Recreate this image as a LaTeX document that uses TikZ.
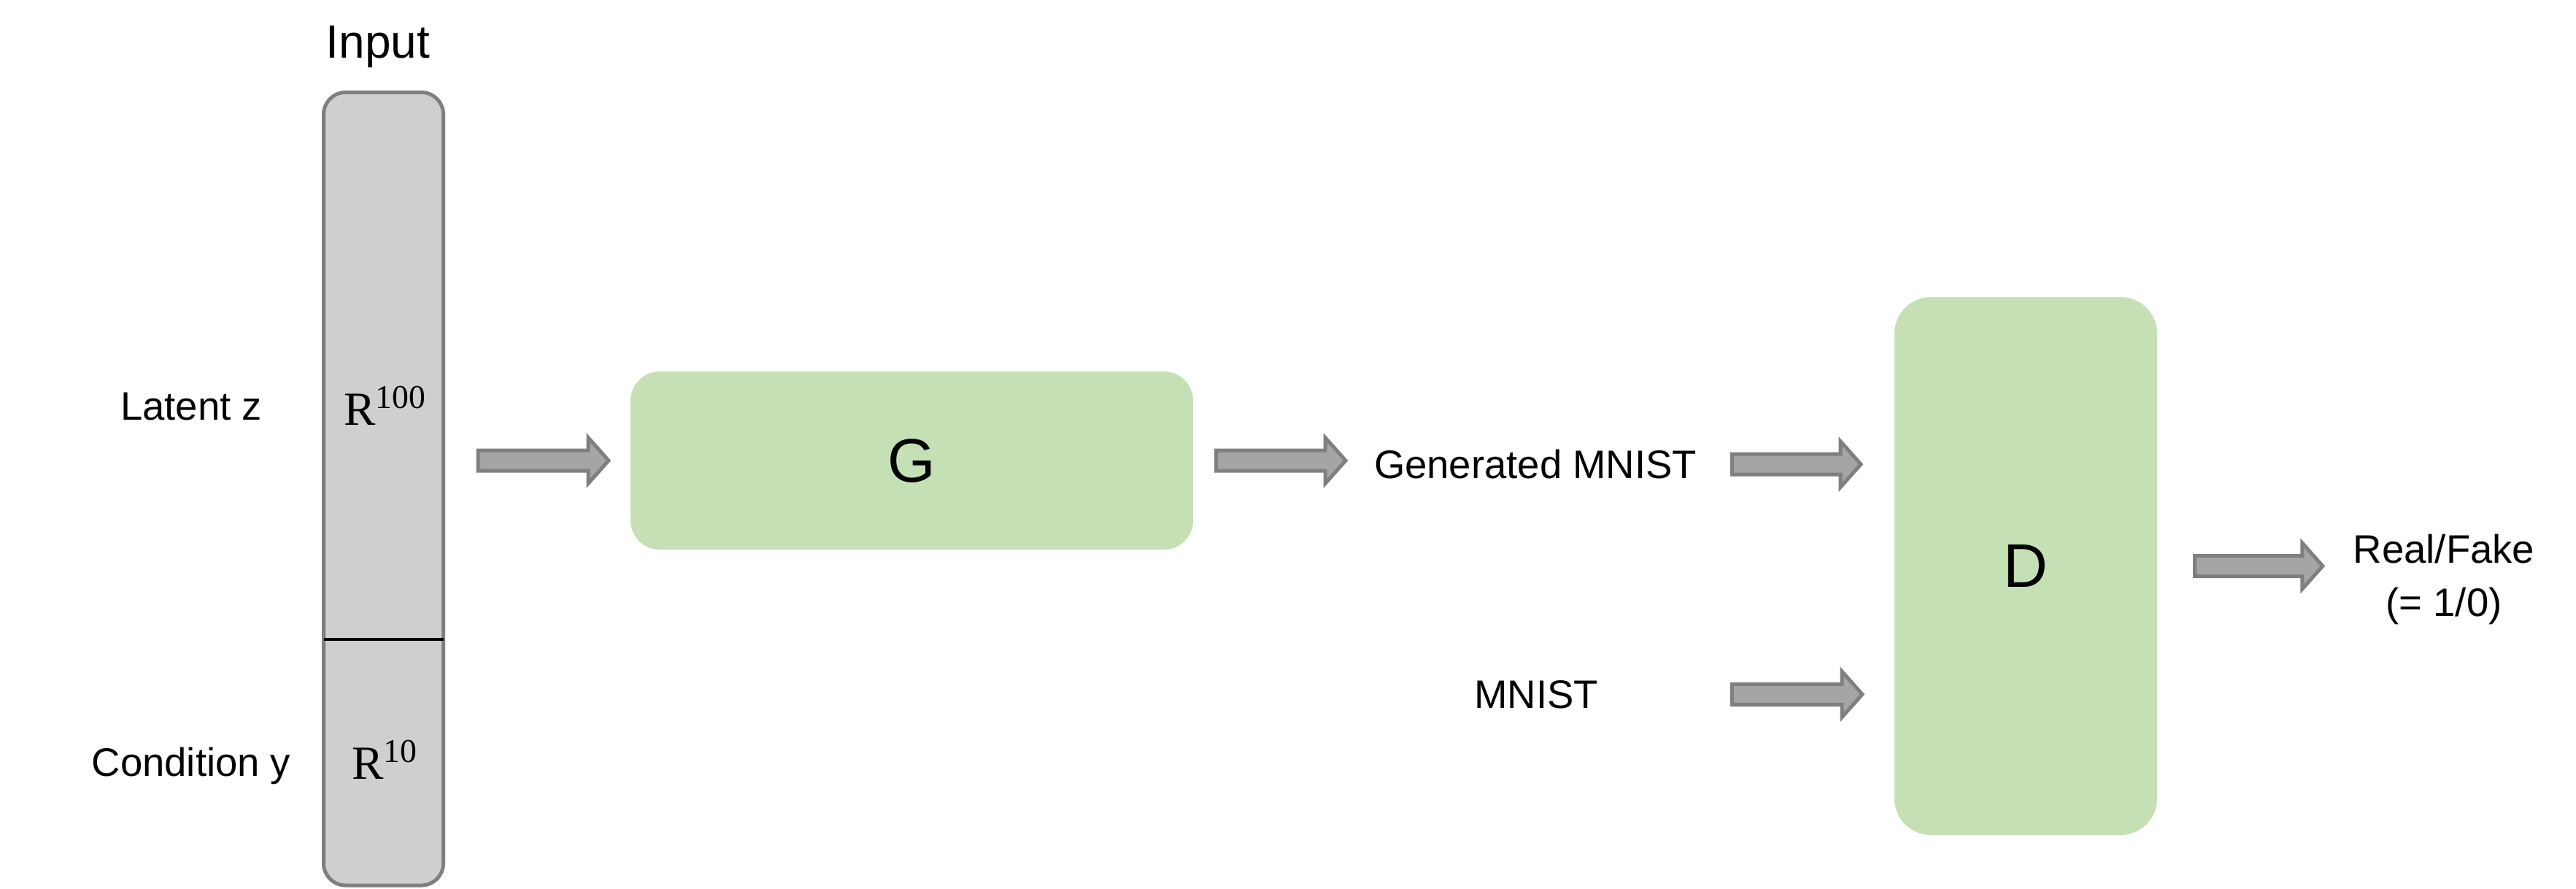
\documentclass[tikz,border=0pt]{standalone}
\usepackage{fontspec}
\setmainfont{Liberation Sans}
\newfontfamily\serifR{Liberation Serif}
\usepackage{tikz}
\usetikzlibrary{
    calc,
}

\definecolor{netgreen}{HTML}{C5E0B4}
\definecolor{colfill}{HTML}{D0CECE}
\definecolor{coledge}{HTML}{7F7F7F}
\definecolor{arrfill}{HTML}{A5A5A5}
\definecolor{arredge}{HTML}{7F7F7F}

\begin{document}
\begin{tikzpicture}[
        every node/.style={outer sep=0pt},
        lbl/.style={
            inner sep=0pt, anchor=base,
            font=\fontsize{15.5}{18.6}\selectfont
        },
        dimtext/.style={
            inner sep=0pt, anchor=base,
            font=\fontsize{18.5}{21}\serifR
        },
        inbox/.style={
            rectangle, rounded corners=0.3cm, draw=coledge, fill=colfill,
            line width=0.05cm, minimum width=1.64cm, minimum height=10.865cm
        },
        net/.style={
            rectangle, rounded corners=#1, fill=netgreen,
            font=\fontsize{24}{28}\selectfont
        },
        fatarrow/.style={
            draw=arredge, fill=arrfill, line width=0.05cm, line join=miter,
            to path={let \p1=(\tikztostart), \p2=(\tikztotarget) in
                -- (\x1,{\y1+0.14cm}) -- ({\x2-0.28cm},{\y1+0.14cm})
                -- ({\x2-0.28cm},{\y1+0.315cm}) -- (\x2,\y1)
                -- ({\x2-0.28cm},{\y1-0.315cm}) -- ({\x2-0.28cm},{\y1-0.14cm})
                -- (\x1,{\y1-0.14cm}) -- cycle}
        },
    ]

    \useasboundingbox (0,0) rectangle (35.3,-12.17);

    % ── Input column ──
    \node[inbox] (inp) at (5.255,-6.6975) {};
    \coordinate (cut) at (5.255,-8.76);
    \draw[black, line width=0.04cm] (inp.west |- cut) -- (inp.east |- cut);
    \node[lbl, font=\fontsize{18.2}{21}\selectfont] (intitle) at (5.18,-0.79) {Input};

    \node[dimtext] (zdim) at (5.27,-5.82) {R\raisebox{0.23cm}{\fontsize{13}{15}\selectfont 100}};
    \node[dimtext] (ydim) at (5.27,-10.67) {R\raisebox{0.23cm}{\fontsize{13}{15}\selectfont 10}};

    \node[lbl] (zlbl) at (2.62,-5.75) {Latent z};
    \node[lbl] (ylbl) at (2.62,-10.63) {Condition y};

    % ── Generator / Discriminator ──
    \node[net=0.4cm, minimum width=7.71cm, minimum height=2.44cm] (G) at (12.495,-6.31) {G};
    \node[net=0.5cm, minimum width=3.6cm, minimum height=7.37cm] (D) at (27.76,-7.755) {D};

    % ── Data labels ──
    \node[lbl] (gen) at (21.04,-6.555) {Generated MNIST};
    \node[lbl] (mnist) at (21.05,-9.70) {MNIST};
    \node[lbl, anchor=center, align=center, font=\fontsize{15.5}{20.8}\selectfont] (rf)
        at (33.49,-7.94) {Real/Fake\\(= 1/0)};

    % ── Arrows ──
    \coordinate (zin) at (inp.east |- G.west);
    \draw[fatarrow] ([xshift=4.75mm]zin) to ([xshift=-3mm]G.west);
    \draw[fatarrow] ([xshift=3.15mm]G.east) to ([xshift=-3.9mm]gen.west);
    \draw[fatarrow] ([xshift=4.85mm]gen.east) to ([xshift=-4.6mm]D.west);
    \draw[fatarrow] ([xshift=18.35mm]mnist.east) to ([xshift=-4.4mm]D.west);
    \draw[fatarrow] ([xshift=5.15mm]D.east) to ([xshift=-4.2mm]rf.west);

\end{tikzpicture}
\end{document}
